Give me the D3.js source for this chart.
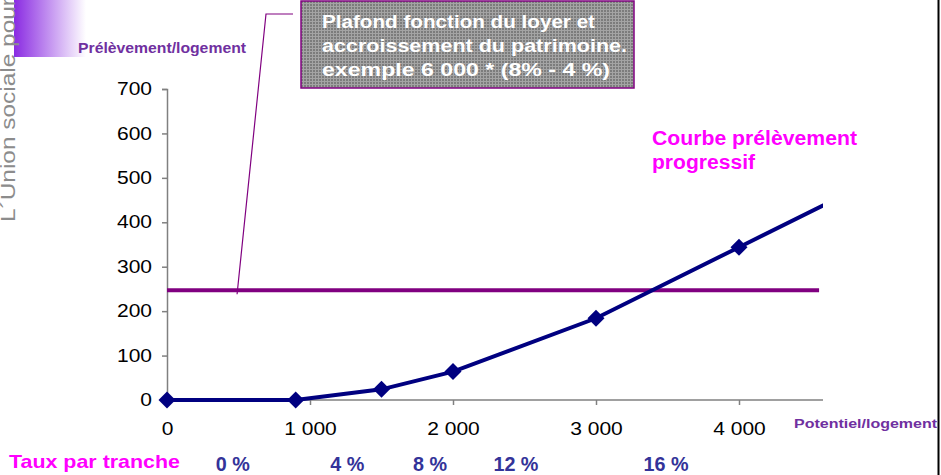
<!DOCTYPE html>
<html>
<head>
<meta charset="utf-8">
<script src="https://cdn.jsdelivr.net/npm/d3@7"></script>
<style>
  body { margin: 0; background: #fff; }
  svg { display: block; font-family: Arial, "Liberation Sans", sans-serif; }
</style>
</head>
<body>
<svg id="chart" width="941" height="475"></svg>
<script>
// tranche thresholds (potentiel/logement) and cumulative prelevement
var potentiel = [0, 900, 1500, 2000, 3000, 4000, 5000];
var prelevement = [0, 0, 24, 64, 184, 344, 504];
var xTicks = [0, 1000, 2000, 3000, 4000];
var yTicks = [0, 100, 200, 300, 400, 500, 600, 700];
var rates = ["0 %", "4 %", "8 %", "12 %", "16 %"];
var rateAt = [460, 1260, 1840, 2440, 3490]; // where the rate labels sit on the x axis
var plafond = 247;
var plafondExtent = [0, 4560];
var calloutLines = ["Plafond fonction du loyer et", "accroissement du patrimoine.", "exemple 6 000 * (8% - 4 %)"];

var svg = d3.select('#chart');
var x = d3.scaleLinear().domain([0, 4000]).range([167, 739]);
var y = d3.scaleLinear().domain([0, 700]).range([400, 89]);
var fmt = function (d) { return d === 0 ? "0" : d3.format(",")(d).replace(/,/g, " "); };

// the original picture is a bit wider than Arial, so stretch texts sideways
function stretch(sel, f) {
    sel.each(function () {
        var w = this.getComputedTextLength();
        d3.select(this).attr('textLength', w * f).attr('lengthAdjust', 'spacingAndGlyphs');
    });
}
function fit(sel, w) {
    sel.attr('textLength', w).attr('lengthAdjust', 'spacingAndGlyphs');
}

var defs = svg.append('defs');
var grad = defs.append('linearGradient').attr('id', 'fade');
grad.append('stop').attr('offset', '0%').attr('stop-color', '#8a2be2');
grad.append('stop').attr('offset', '100%').attr('stop-color', '#fff');
var pat = defs.append('pattern').attr('id', 'dots')
    .attr('width', 3).attr('height', 3).attr('patternUnits', 'userSpaceOnUse');
pat.append('rect').attr('width', 3).attr('height', 3).attr('fill', '#7c7c7c');
pat.append('rect').attr('width', 3).attr('height', 1).attr('fill', '#a4a4a4');
pat.append('rect').attr('width', 1).attr('height', 3).attr('fill', '#a4a4a4');
defs.append('clipPath').attr('id', 'plot')
    .append('rect').attr('x', 150).attr('y', 60).attr('width', 673).attr('height', 360);

// slide decoration top-left
svg.append('rect').attr('x', 14).attr('y', 0).attr('width', 72).attr('height', 57).attr('fill', 'url(#fade)');
svg.append('text')
    .attr('transform', 'translate(14.5,222) rotate(-90)')
    .attr('font-size', 20).attr('fill', '#8c8c8c')
    .text("L\u00B4Union sociale pour")
    .call(fit, 224);

// right border
svg.append('line').attr('x1', 938.5).attr('x2', 938.5).attr('y1', 0).attr('y2', 475)
    .attr('stroke', '#000').attr('stroke-width', 2);

// axes
var yAxis = svg.append('g').attr('transform', 'translate(167,0)')
    .call(d3.axisLeft(y).tickValues(yTicks).tickSize(5).tickPadding(10).tickFormat(fmt));
var xAxis = svg.append('g').attr('transform', 'translate(0,400)')
    .call(d3.axisBottom(x).tickValues(xTicks).tickSize(5).tickPadding(18).tickFormat(fmt));
xAxis.select('.domain').attr('d', 'M167,0H823');
[yAxis, xAxis].forEach(function (g) {
    g.selectAll('.domain, line').attr('stroke', '#808080').attr('stroke-width', 1.5);
    g.selectAll('text').attr('font-size', 17.5).attr('fill', '#000')
        .attr('font-family', 'Arial, "Liberation Sans", sans-serif');
    stretch(g.selectAll('text'), 1.2);
});

// plafond line
svg.append('line')
    .attr('x1', x(plafondExtent[0])).attr('x2', x(plafondExtent[1]))
    .attr('y1', y(plafond)).attr('y2', y(plafond))
    .attr('stroke', '#800080').attr('stroke-width', 4);

// progressive curve
var pts = potentiel.map(function (p, i) { return [p, prelevement[i]]; });
var plot = svg.append('g').attr('clip-path', 'url(#plot)');
plot.append('path').datum(pts)
    .attr('fill', 'none').attr('stroke', '#000080').attr('stroke-width', 4)
    .attr('d', d3.line().x(function (d) { return x(d[0]); }).y(function (d) { return y(d[1]); }));
plot.selectAll('path.mk').data(pts).enter().append('path').attr('class', 'mk')
    .attr('transform', function (d) { return 'translate(' + x(d[0]) + ',' + y(d[1]) + ') rotate(45)'; })
    .attr('d', d3.symbol().type(d3.symbolSquare).size(144))
    .attr('fill', '#000080');

// callout box with pointer
svg.append('polyline')
    .attr('points', [[x(490), y(plafond) + 4], [266, 14], [293, 14]].join(' '))
    .attr('fill', 'none').attr('stroke', '#800080').attr('stroke-width', 1.2);
svg.append('rect').attr('x', 301).attr('y', 1).attr('width', 333).attr('height', 87)
    .attr('fill', 'url(#dots)').attr('stroke', '#800080').attr('stroke-width', 1.5);
var calloutW = [273, 305, 288];
svg.append('g').selectAll('text').data(calloutLines).enter().append('text')
    .attr('x', 322).attr('y', function (d, i) { return 28 + i * 24; })
    .attr('font-size', 18).attr('font-weight', 'bold').attr('fill', '#fff')
    .attr('textLength', function (d, i) { return calloutW[i]; }).attr('lengthAdjust', 'spacingAndGlyphs')
    .text(function (d) { return d; });

// labels
svg.append('text').attr('x', 78).attr('y', 53).attr('font-size', 15).attr('font-weight', 'bold')
    .attr('fill', '#7030a0').text('Prélèvement/logement').call(fit, 168);
svg.append('text').attr('x', 794).attr('y', 428).attr('font-size', 13.5).attr('font-weight', 'bold')
    .attr('fill', '#7030a0').text('Potentiel/logement').call(fit, 143);
var courbeW = [205, 103];
svg.append('g').selectAll('text').data(['Courbe prélèvement', 'progressif']).enter().append('text')
    .attr('x', 652).attr('y', function (d, i) { return 145 + i * 24; })
    .attr('font-size', 19.5).attr('font-weight', 'bold').attr('fill', '#ff00ff')
    .attr('textLength', function (d, i) { return courbeW[i]; }).attr('lengthAdjust', 'spacingAndGlyphs')
    .text(function (d) { return d; });

svg.append('text').attr('x', 9).attr('y', 468).attr('font-size', 19).attr('font-weight', 'bold')
    .attr('fill', '#ff00ff').text('Taux par tranche').call(fit, 171);
svg.append('g').selectAll('text').data(rates).enter().append('text')
    .attr('x', function (d, i) { return x(rateAt[i]); }).attr('y', 471)
    .attr('text-anchor', 'middle')
    .attr('font-size', 21).attr('font-weight', 'bold').attr('fill', '#333399')
    .text(function (d) { return d; })
    .each(function () {
        var w = this.getComputedTextLength();
        d3.select(this).attr('textLength', w * 0.94).attr('lengthAdjust', 'spacingAndGlyphs');
    });
</script>
</body>
</html>
